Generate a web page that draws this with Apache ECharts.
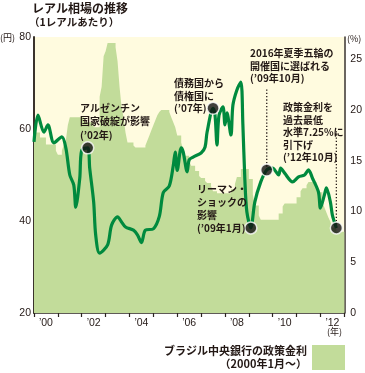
<!DOCTYPE html>
<html><head><meta charset="utf-8">
<script src="https://cdn.jsdelivr.net/npm/echarts@6/dist/echarts.min.js"></script>
<style>html,body{margin:0;padding:0;background:#fff}#c{width:365px;height:373px}</style>
</head><body><div id="c"></div>
<script>
// ---- data ----
const yearCats = ['00','01','02','03','04','05','06','07','08','09','10','11','12'];
const leftTicks = [20, 40, 60, 80];
const rightTicks = [0, 5, 10, 15, 20, 25];

const fxDates = ['2000-01','2000-03','2000-06','2000-08','2000-11','2001-03','2001-05','2001-07','2001-09','2001-10','2001-12',
  '2002-01','2002-04','2002-05','2002-07','2002-08','2002-10','2003-02','2003-04','2003-07','2003-09','2003-11',
  '2004-03','2004-05','2004-07','2004-09','2005-01','2005-04','2005-06','2005-09','2005-11','2005-12',
  '2006-01','2006-03','2006-04','2006-06','2006-07','2006-09','2007-01','2007-03','2007-04','2007-07','2007-08',
  '2007-09','2007-10','2007-12','2008-01','2008-02','2008-04','2008-05','2008-07','2008-09','2008-10','2008-11',
  '2008-12','2009-02','2009-04','2009-07','2009-10','2010-01','2010-02','2010-04','2010-05','2010-07','2010-11',
  '2011-02','2011-05','2011-07','2011-09','2011-12','2012-01','2012-03','2012-04','2012-06','2012-07','2012-09'];
const fxValues = [57.2,63.0,59.3,60.9,57.0,58.3,55.9,50.0,47.8,43.0,49.3,
  55.4,55.9,51.5,44.1,37.0,33.0,34.8,39.1,40.9,39.8,38.7,
  38.0,37.0,35.3,38.0,38.3,41.0,46.2,47.6,52.0,55.0,
  51.0,55.9,55.0,50.7,53.3,53.9,54.8,56.1,59.3,64.5,63.0,
  56.5,63.0,64.8,60.9,63.5,58.7,65.2,68.5,70.2,61.0,49.0,
  42.0,38.5,44.1,48.5,51.1,51.5,51.1,50.0,51.5,50.4,48.5,
  49.6,50.0,51.1,49.3,46.3,42.8,45.7,47.2,44.1,41.3,38.5];

// Brazilian central bank policy rate (%), value from that month on
const rateDates = ['2000-01','2000-04','2000-07','2000-12','2001-01','2001-03','2001-04','2001-05','2001-06','2001-07',
  '2002-02','2002-03','2002-07','2002-10','2002-11','2002-12','2003-01','2003-02','2003-06','2003-07','2003-08',
  '2003-09','2003-10','2003-11','2003-12','2004-03','2004-04','2004-09','2004-10','2004-11','2004-12','2005-01',
  '2005-02','2005-03','2005-04','2005-05','2005-09','2005-10','2005-11','2005-12','2006-01','2006-03','2006-04',
  '2006-05','2006-07','2006-08','2006-10','2006-12','2007-01','2007-03','2007-04','2007-06','2007-07','2007-09',
  '2008-04','2008-06','2008-07','2008-09','2009-01','2009-03','2009-04','2009-06','2009-07','2010-04','2010-06',
  '2010-07','2011-01','2011-03','2011-04','2011-06','2011-07','2011-11','2011-12','2012-02','2012-03','2012-04',
  '2012-05','2012-06','2012-07','2012-09'];
const rateValues = [17.8,17.3,16.6,16.0,15.6,16.0,16.6,17.0,18.5,19.3,
  19.0,18.8,18.3,21.3,22.3,25.3,25.8,26.6,26.2,24.8,22.3,
  20.3,19.3,17.8,16.8,16.5,16.3,16.5,17.0,17.5,18.0,18.5,
  19.0,19.5,19.8,20.0,19.8,19.3,18.8,18.3,17.5,16.8,16.0,
  15.5,15.0,14.5,14.0,13.5,13.3,13.0,12.8,12.5,12.0,11.8,
  12.2,12.7,13.4,14.2,13.2,11.7,10.6,9.6,9.2,9.8,10.5,
  10.8,11.4,12.0,12.3,12.6,12.9,12.2,11.9,10.9,10.4,9.9,
  9.4,9.0,8.4,8.0];

// annotated events (dots on the line) and dotted leader lines
const eventDates = ['2002-04','2007-07','2009-02','2009-10','2012-09'];
const leaderDates = ['2009-10','2012-09'];
const leaderTops = [69.0, 59.5];

const annotations = [
  'アルゼンチン\n国家破綻が影響\n(\u201902年)',
  '債務国から\n債権国に\n(\u201907年)',
  'リーマン・\nショックの\n影響\n(\u201909年1月)',
  '2016年夏季五輪の\n開催国に選ばれる\n(\u201909年10月)',
  '政策金利を\n過去最低\n水準7.25%に\n引下げ\n(\u201912年10月)'
];
const titleText = 'レアル相場の推移';
const subtitleText = '（1レアルあたり）';
const legendName = 'ブラジル中央銀行の政策金利';
const legendSub = '（2000年1月～）';

// ---- build ----
function mi(s){const p=s.split('-').map(Number);return (p[0]-2000)*12+(p[1]-1);}
const MONTHS = yearCats.length*12;
const fxData = fxDates.map((d,i)=>[mi(d), fxValues[i]]);
const rateData = rateDates.map((d,i)=>[mi(d), rateValues[i]]);
rateData.push([MONTHS, rateValues[rateValues.length-1]]);
const dotData = eventDates.map(d=>[mi(d), fxValues[fxDates.indexOf(d)]]);
const leaderData = [];
leaderDates.forEach((d,i)=>{
  leaderData.push([mi(d), fxValues[fxDates.indexOf(d)]]);
  leaderData.push([mi(d), leaderTops[i]]);
  leaderData.push(null);
});

const JP = "'Noto Sans CJK JP', sans-serif";
const NUM = "'Liberation Sans Narrow','Liberation Sans', sans-serif";
const txtColor = '#231815';
const annPos = [[80,101,13.5],[174,77,12.5],[197,183,13],[250,47,12.5],[283,101,12.5]];

const chart = echarts.init(document.getElementById('c'), null, {renderer:'canvas'});
chart.setOption({
  animation:false,
  grid:{left:34, right:20, top:37, bottom:60, show:true, backgroundColor:'#fffbdf', borderWidth:0},
  legend:{
    data:[{name:legendName, icon:'rect'}],
    right:20, top:345, itemWidth:33, itemHeight:25, align:'right', itemGap:6, padding:0,
    formatter: n => '{a|'+n+'}\n{b|'+legendSub+'}',
    textStyle:{rich:{
      a:{fontFamily:JP, fontSize:11, fontWeight:'bold', color:txtColor, align:'right', lineHeight:13},
      b:{fontFamily:JP, fontSize:11, fontWeight:'bold', color:txtColor, align:'right', lineHeight:13}
    }}
  },
  xAxis:[
    {type:'category', data:yearCats, boundaryGap:true, gridIndex:0,
     axisLine:{lineStyle:{color:'#2b2520', width:1.5}},
     axisTick:{show:true, interval:0, length:4, inside:false, lineStyle:{color:'#2b2520', width:1.2}},
     axisLabel:{interval:1, margin:5, formatter:v=>'\u2019'+v, fontFamily:NUM, fontSize:10.5, color:txtColor},
     splitLine:{show:false}},
    {type:'value', min:0, max:MONTHS, show:false}
  ],
  yAxis:[
    {type:'value', min:leftTicks[0], max:leftTicks[leftTicks.length-1], interval:20, position:'left',
     axisLine:{show:true, lineStyle:{color:'#3a332c', width:2}},
     axisTick:{show:false}, splitLine:{show:false},
     axisLabel:{margin:3, fontFamily:NUM, fontSize:10.5, color:txtColor}},
    {type:'value', min:rightTicks[0], max:27.2, interval:5, position:'right',
     axisLine:{show:true, lineStyle:{color:'#3a332c', width:1.5}},
     axisTick:{show:false}, splitLine:{show:false},
     axisLabel:{margin:6, fontFamily:NUM, fontSize:10.5, color:txtColor, showMaxLabel:false,
       formatter:v=> rightTicks.indexOf(v)>=0 ? String(v) : ''}}
  ],
  series:[
    {name:legendName, type:'line', xAxisIndex:1, yAxisIndex:1, data:rateData, step:'end',
     symbol:'none', lineStyle:{width:0}, itemStyle:{color:'#c2dc9a'},
     areaStyle:{color:'#c2dc9a', opacity:1}, z:1},
    {name:'fx', type:'line', xAxisIndex:1, yAxisIndex:0, data:fxData, smooth:0.3,
     symbol:'none', lineStyle:{color:'#008a3e', width:3.2}, z:3},
    {name:'leader', type:'line', xAxisIndex:1, yAxisIndex:0, data:leaderData, connectNulls:false,
     symbol:'none', lineStyle:{color:'#231815', width:1.3, type:[1.3,2]}, z:2},
    {name:'events', type:'scatter', xAxisIndex:1, yAxisIndex:0, data:dotData, symbolSize:12,
     itemStyle:{color:'#111', borderColor:'#fff', borderWidth:1.5}, z:5}
  ],
  graphic:[
    {type:'text', left:32, top:2, style:{text:titleText, font:"bold 12px "+JP, fill:txtColor}},
    {type:'text', left:29, top:17, style:{text:subtitleText, font:"bold 10.5px "+JP, fill:txtColor}},
    {type:'text', left:0, top:33, style:{text:'(円)', font:"9px "+JP, fill:txtColor}},
    {type:'text', left:347, top:34, style:{text:'(%)', font:"9px "+JP, fill:txtColor}},
    {type:'text', left:327, top:327, style:{text:'(年)', font:"9px "+JP, fill:txtColor}}
  ].concat(annotations.map((t,i)=>({type:'text', x:annPos[i][0], y:annPos[i][1], z:10,
     style:{text:t, font:"bold 10px "+JP, fill:txtColor, lineHeight:annPos[i][2], textVerticalAlign:'top'}})))
});
</script></body></html>
